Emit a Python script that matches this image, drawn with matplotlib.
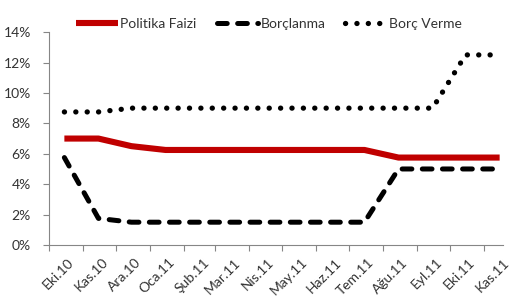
import matplotlib
matplotlib.use("Agg")
from matplotlib import pyplot as plt
import matplotlib.dates as mdates
import pandas as pd

months = ["Eki.10", "Kas.10", "Ara.10", "Oca.11", "Şub.11", "Mar.11", "Nis.11",
          "May.11", "Haz.11", "Tem.11", "Ağu.11", "Eyl.11", "Eki.11", "Kas.11"]
politika_faizi = [7.0, 7.0, 6.5, 6.25, 6.25, 6.25, 6.25, 6.25, 6.25, 6.25, 5.75, 5.75, 5.75, 5.75]
borclanma = [5.75, 1.75, 1.5, 1.5, 1.5, 1.5, 1.5, 1.5, 1.5, 1.5, 5.0, 5.0, 5.0, 5.0]
borc_verme = [8.75, 8.75, 9.0, 9.0, 9.0, 9.0, 9.0, 9.0, 9.0, 9.0, 9.0, 9.0, 12.5, 12.5]

plt.rcParams["font.family"] = ["Lato", "DejaVu Sans"]
plt.rcParams["lines.scale_dashes"] = False

starts = pd.date_range("2010-10-01", periods=len(months), freq="MS")
mids = starts + pd.Timedelta(days=14)

fig = plt.figure(figsize=(5.2, 3.02), dpi=100)
ax = fig.add_axes([0.0942, 0.1887, 0.873, 0.705])

ax.plot(mids, politika_faizi, color="#C00000", lw=4.4, solid_capstyle="butt",
        solid_joinstyle="round", label="Politika Faizi")
ax.plot(mids, borclanma, color="black", lw=3.6, dashes=(7, 7.5),
        dash_capstyle="round", label="Borçlanma")
ax.plot(mids, borc_verme, color="black", lw=3.8, dashes=(0.1, 8.1),
        dash_capstyle="round", label="Borç Verme")

ax.set_ylim(0, 14)
ax.set_yticks(range(0, 15, 2))
ax.set_yticklabels([f"{v}%" for v in range(0, 15, 2)])
ax.set_xlim(pd.Timestamp("2010-10-01"), pd.Timestamp("2011-11-18"))

ax.xaxis.set_major_locator(mdates.MonthLocator())
ax.xaxis.set_major_formatter(plt.NullFormatter())
ax.set_xticks(mids + pd.Timedelta(days=3), minor=True)
ax.set_xticklabels(months, minor=True, rotation=45, ha="right",
                   rotation_mode="anchor")

for s in ["top", "right"]:
    ax.spines[s].set_visible(False)
for s in ["left", "bottom"]:
    ax.spines[s].set_color("#868686")
ax.tick_params(axis="both", which="major", length=4, color="#868686",
               labelsize=10, labelcolor="#333333")
ax.tick_params(axis="y", pad=9)
ax.tick_params(axis="x", which="minor", length=0, pad=8, labelsize=10,
               labelcolor="#333333")

ax.legend(loc="center", bbox_to_anchor=(0.485, 1.038), ncol=3, frameon=False,
          fontsize=10, handlelength=3.0, handletextpad=0.15, columnspacing=1.45,
          labelcolor="#333333")

fig.savefig("out.png", dpi=100)
